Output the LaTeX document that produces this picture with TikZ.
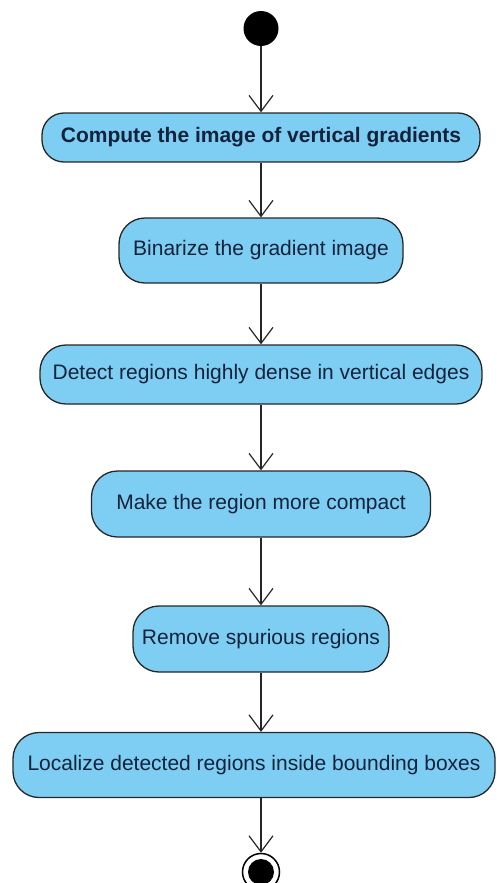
\documentclass[tikz,border=0pt]{standalone}
\usepackage{fontspec}
\setmainfont{Liberation Sans}
\usetikzlibrary{arrows.meta}
\definecolor{actfill}{RGB}{125,206,242}
\definecolor{acttext}{RGB}{20,34,60}
\definecolor{actline}{RGB}{38,38,38}
\begin{document}
\begin{tikzpicture}[x=1pt,y=-1pt,
  action/.style={draw=actline, line width=1.3pt, fill=actfill, rounded corners=26pt,
    text=acttext, font=\fontsize{21}{24}\selectfont, inner sep=0pt, align=center},
  flow/.style={draw=actline, line width=1.2pt,
    -{Straight Barb[length=16pt,width=24pt,line width=1.2pt]}}]
\useasboundingbox (0,0) rectangle (497,883);

% initial node
\node[circle, fill=black, minimum size=35pt, inner sep=0pt] (start) at (261,28.5) {};

% actions
\node[action, minimum width=438pt, minimum height=49pt, rounded corners=22pt, font=\fontsize{21}{24}\selectfont\bfseries]
  (a1) at (261,137.5) {Compute the image of vertical gradients};
\node[action, minimum width=284pt, minimum height=65pt] (a2) at (261,250.5) {Binarize the gradient image};
\node[action, minimum width=442pt, minimum height=59pt] (a3) at (261,374.5) {Detect regions highly dense in vertical edges};
\node[action, minimum width=339pt, minimum height=66pt] (a4) at (261,504) {Make the region more compact};
\node[action, minimum width=256pt, minimum height=66pt] (a5) at (261,639) {Remove spurious regions};
\node[action, minimum width=482pt, minimum height=65pt] (a6) at (254,765) {Localize detected regions inside bounding boxes};

% final node
\node[circle, draw=black, line width=1.5pt, fill=white, minimum size=37pt, inner sep=0pt] (final) at (261,872) {};
\node[circle, fill=black, minimum size=26pt, inner sep=0pt] (finaldot) at (final.center) {};

% control flow
\draw[flow] (start) -- (a1);
\draw[flow] (a1) -- (a2);
\draw[flow] (a2) -- (a3);
\draw[flow] (a3) -- (a4);
\draw[flow] (a4) -- (a5);
\draw[flow] (a5.south) -- (a5.south |- a6.north);
\draw[flow] (a5.south |- a6.south) -- (final.north);
\end{tikzpicture}
\end{document}
